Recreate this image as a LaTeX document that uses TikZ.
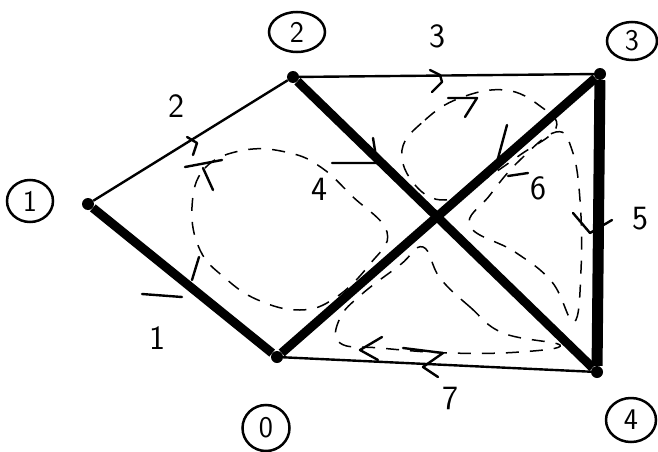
\documentclass[tikz,border=0pt]{standalone}
\usetikzlibrary{shapes.geometric}
\begin{document}
\begin{tikzpicture}[x=1pt,y=-1pt,
 vertex/.style={circle,fill=black,inner sep=0pt,minimum size=12pt},
 thinedge/.style={line width=2.4pt},
 thickedge/.style={line width=9pt},
 loopline/.style={dash pattern=on 13pt off 11pt, line width=1.5pt},
 tick/.style={line width=2.4pt,line cap=round,line join=round},
 elabel/.style={font=\sffamily\fontsize{34}{34}\selectfont, inner sep=0pt},
 vlabel/.style={ellipse,draw,line width=2.5pt,font=\sffamily\fontsize{30}{30}\selectfont,inner sep=0pt}]
\useasboundingbox (0,0) rectangle (658,452);

% vertices
\node[vertex] (n1) at (88,204) {};
\node[vertex] (n2) at (293,77) {};
\node[vertex] (n3) at (600,74) {};
\node[vertex] (n0) at (277,357) {};
\node[vertex] (n4) at (597,372) {};

% circled vertex names
\node[vlabel, minimum width=46pt, minimum height=42pt] (c1) at (30,201) {1};
\node[vlabel, minimum width=56pt, minimum height=40pt] (c2) at (297,32) {2};
\node[vlabel, minimum width=50pt, minimum height=38pt] (c3) at (632,41) {3};
\node[vlabel, minimum width=47pt, minimum height=46pt] (c0) at (266,428) {0};
\node[vlabel, minimum width=50pt, minimum height=44pt] (c4) at (631,420) {4};

% dashed face loops
\draw[loopline] plot[smooth cycle, tension=0.7] coordinates {(192,207) (205,168) (245,150) (290,153) (322,168) (352,196) (387,232) (370,264) (335,298) (300,310) (258,300) (225,278) (200,250)};
\draw[loopline] plot[smooth cycle, tension=0.7] coordinates {(402,150) (425,120) (460,98) (505,90) (540,106) (556,128) (520,155) (480,182) (445,200) (415,185)};
\draw[loopline] plot[smooth cycle, tension=0.7] coordinates {(470,226) (515,252) (552,282) (574,322) (581,270) (580,200) (572,150) (556,132) (520,160) (490,195)};
\draw[loopline] plot[smooth cycle, tension=0.7] coordinates {(440,278) (470,307) (503,333) (560,345) (520,352) (450,353) (380,348) (340,343) (340,318) (362,294) (400,265) (423,247)};

% edges
\draw[thinedge] (n1) -- (n2);
\draw[thinedge] (n2) -- (n3);
\draw[thinedge] (n0) -- (n4);
\draw[thickedge] (n1) -- (n0);
\draw[thickedge] (n2) -- (n4);
\draw[thickedge] (n0) -- (n3);
\draw[line width=11pt] (n3) -- (n4);

% edge labels
\node[elabel] (l2) at (176,106) {2};
\node[elabel] (l3) at (437,36) {3};
\node[elabel] (l4) at (319,189) {4};
\node[elabel] (l6) at (538,188) {6};
\node[elabel] (l5) at (640,219) {5};
\node[elabel] (l1) at (157,338) {1};
\node[elabel] (l7) at (450,398) {7};

% direction ticks
\draw[tick] (187,137) -- (197,143) -- (193,155);
\draw[tick] (185,167) -- (222,160);
\draw[tick] (203,168) -- (213,190);
\draw[tick] (430,70) -- (440,75) -- (442,82) -- (432,92);
\draw[tick] (332,163) -- (377,163) -- (373,138);
\draw[tick] (448,98) -- (477,98) -- (465,117);
\draw[tick] (507,125) -- (497,162);
\draw[tick] (508,176) -- (528,173);
\draw[tick] (142,294) -- (182,297);
\draw[tick] (192,280) -- (199,257);
\draw[tick] (573,213) -- (590,233) -- (612,220);
\draw[tick] (382,337) -- (360,350) -- (378,360);
\draw[tick] (403,348) -- (443,353) -- (423,367) -- (438,377);
\end{tikzpicture}
\end{document}
